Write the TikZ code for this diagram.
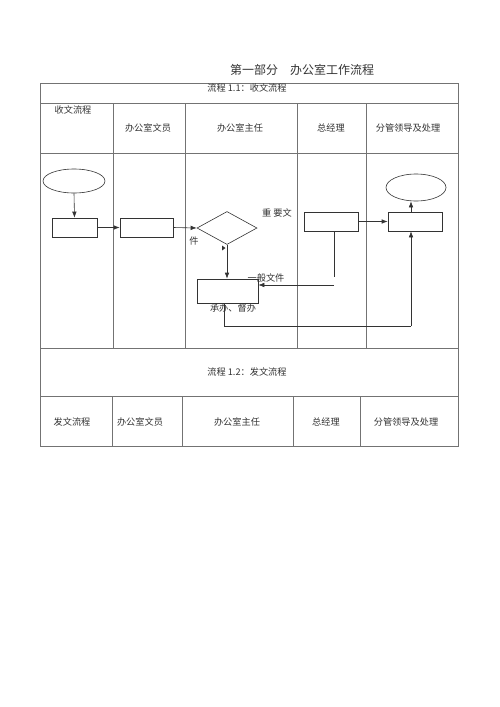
\documentclass[tikz,border=0pt]{standalone}
\usepackage{fontspec}
\setmainfont{Noto Sans CJK SC}
\usetikzlibrary{shapes.geometric,arrows.meta}
\begin{document}
\begin{tikzpicture}[x=1pt,y=-1pt,
  grid/.style={draw=black!55,line width=0.5pt},
  flow/.style={draw=black!80,line width=0.6pt},
  arr/.style={flow,-{Latex[length=6pt,width=4.5pt]}},
  txt/.style={font=\fontsize{9.2}{11}\selectfont,inner sep=0pt,text=black!80},
  boxn/.style={flow,rectangle,inner sep=0pt},
  elln/.style={flow,ellipse,inner sep=0pt}]
\useasboundingbox (0,0) rectangle (500,707);
% title
\node[txt,font=\fontsize{12}{14}\selectfont] (title) at (302,70) {第一部分\quad 办公室工作流程};
% table outer
\draw[grid] (40,83) rectangle (458,446);
\draw[grid] (40,103) -- (458,103);
\draw[grid] (40,153) -- (458,153);
\draw[grid] (40,348) -- (458,348);
\draw[grid] (40,396) -- (458,396);
\foreach \x in {113,185,297,366} \draw[grid] (\x,103) -- (\x,348);
\foreach \x in {112,182,293,360} \draw[grid] (\x,396) -- (\x,446);
% header texts
\node[txt] (t11) at (247,88) {流程 1.1：收文流程};
\node[txt] (h0) at (73,110) {收文流程};
\node[txt] (h1) at (148,128) {办公室文员};
\node[txt] (h2) at (240,128) {办公室主任};
\node[txt] (h3) at (331,128) {总经理};
\node[txt] (h4) at (408,128) {分管领导及处理};
\node[txt] (t12) at (247,372) {流程 1.2：发文流程};
\node[txt] (g0) at (72,422) {发文流程};
\node[txt] (g1) at (140,422) {办公室文员};
\node[txt] (g2) at (237,422) {办公室主任};
\node[txt] (g3) at (326,422) {总经理};
\node[txt] (g4) at (406,422) {分管领导及处理};
% flow shapes
\node[elln,minimum width=62pt,minimum height=24pt] (e1) at (74,181) {};
\node[boxn,minimum width=45pt,minimum height=19pt] (b1) at (74.5,227.5) {};
\node[boxn,minimum width=53pt,minimum height=19pt] (b2) at (146.5,227.5) {};
\node[flow,diamond,inner sep=0pt,minimum width=60pt,minimum height=33pt] (d) at (227,228) {};
\node[boxn,minimum width=61pt,minimum height=24pt] (b3) at (227.5,291) {};
\node[boxn,minimum width=54pt,minimum height=19pt] (b4) at (331,221.5) {};
\node[boxn,minimum width=54pt,minimum height=19pt] (b5) at (415,221.5) {};
\node[elln,minimum width=60pt,minimum height=27pt] (e2) at (416,187.5) {};
% labels
\node[txt] (l1) at (277,213) {重\ 要文};
\node[txt] (l2) at (194,241) {件};
\node[txt] (l3) at (266,278) {一般文件};
\node[txt] (l4) at (233,308) {承办、督办};
% connectors
\draw[arr] (e1.south) -- (b1.north);
\draw[arr] (b1.east) -- (b2.west);
\draw[arr] (b2.east) -- (d.west);
\draw[arr] (d.south) -- (b3.north -| d.south);
\fill[black!80] (222,245.5) -- (225.5,248) -- (222,250.5) -- cycle;
\draw[arr] (b4.east) -- (b5.west);
\draw[arr] (b5.north -| 411,0) -- (e2.south -| 411,0);
\coordinate (c1) at (334,277);
\coordinate (c2) at (334,285);
\draw[flow] (b4.south -| c1) -- (c1);
\draw[arr] (c2) -- (b3.east |- c2);
\coordinate (c3) at (224,326);
\coordinate (c4) at (411,326);
\draw[flow] (b3.south -| c3) -- (c3) -- (c4);
\draw[arr] (c4) -- (b5.south -| c4);
\end{tikzpicture}
\end{document}
